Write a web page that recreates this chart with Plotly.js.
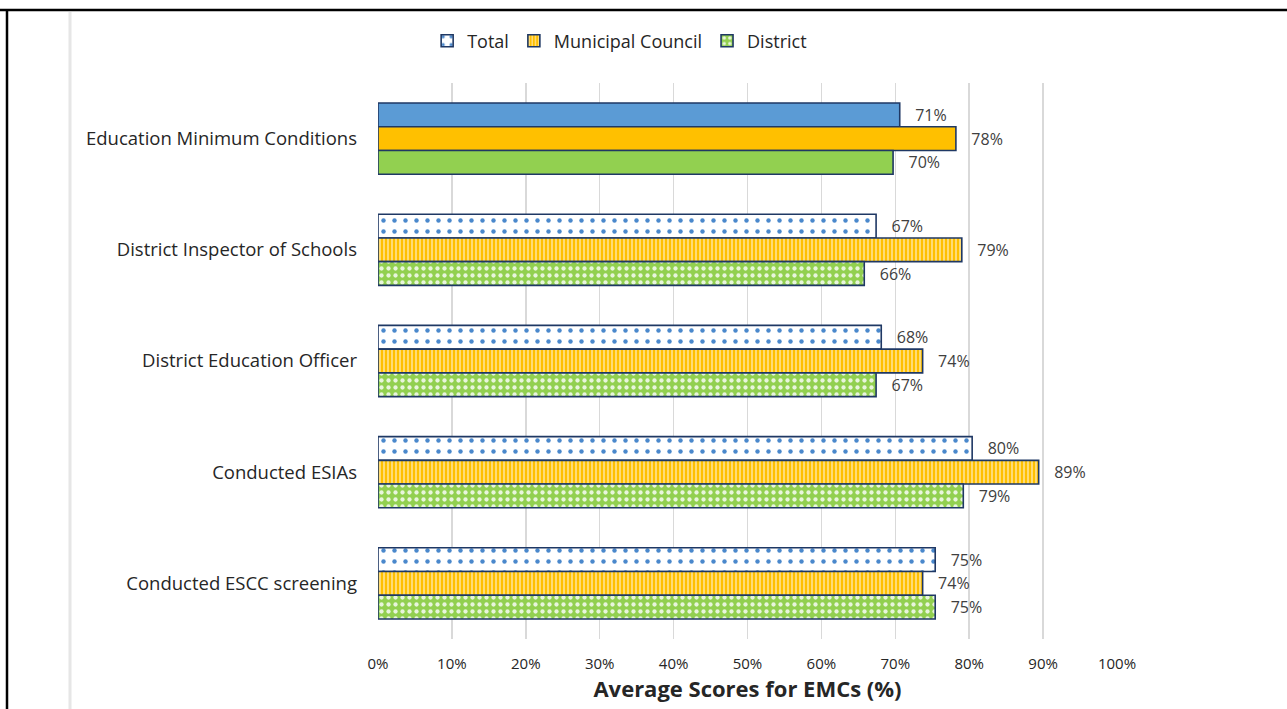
<!DOCTYPE html>
<html>
<head>
<meta charset="utf-8">
<script src="https://cdn.plot.ly/plotly-3.0.1.min.js"></script>
<style>html,body{margin:0;padding:0;background:#fff;}#chart{width:1287px;height:709px;}</style>
</head>
<body>
<div id="chart"></div>
<script>
const categories = ["Education Minimum Conditions", "District Inspector of Schools", "District Education Officer", "Conducted ESIAs", "Conducted ESCC screening"];
const totalValues = [70.6, 67.4, 68.1, 80.4, 75.4];
const municipalValues = [78.2, 79.0, 73.7, 89.4, 73.7];
const districtValues = [69.7, 65.8, 67.4, 79.2, 75.4];
const seriesNames = ["Total", "Municipal Council", "District"];
const xTickValues = [0, 10, 20, 30, 40, 50, 60, 70, 80, 90, 100];
const xTickLabels = ["0%", "10%", "20%", "30%", "40%", "50%", "60%", "70%", "80%", "90%", "100%"];

const FONT = '"Open Sans", sans-serif';
const edge = '#1F3864';
function bars(name, vals, grp, solid, bgPat, fg, shape, size, sol) {
  const common = {
    type: 'bar', orientation: 'h', name: name, offsetgroup: grp, legendgroup: grp,
    textposition: 'outside', cliponaxis: false,
    textfont: {family: FONT, size: 16, color: '#404040'},
    hoverinfo: 'skip'
  };
  const solidTrace = Object.assign({}, common, {
    y: categories.slice(0, 1), x: vals.slice(0, 1),
    text: vals.slice(0, 1).map(v => '\u00a0\u00a0\u00a0' + Math.round(v) + '%'),
    showlegend: false,
    marker: {color: solid, line: {color: edge, width: 1.6}}
  });
  const patTrace = Object.assign({}, common, {
    y: categories.slice(1), x: vals.slice(1),
    text: vals.slice(1).map(v => '\u00a0\u00a0\u00a0' + Math.round(v) + '%'),
    showlegend: true,
    marker: {color: bgPat, line: {color: edge, width: 1.6},
      pattern: {shape: shape, fgcolor: fg, bgcolor: bgPat, fillmode: 'overlay', size: size, solidity: sol, fgopacity: 1}}
  });
  return [patTrace, solidTrace];
}
const data = [].concat(
  bars(seriesNames[0], totalValues, 'g1', '#5B9BD5', '#ffffff', '#4A88CC', '.', 11, 0.13),
  bars(seriesNames[1], municipalValues, 'g2', '#FFC000', '#FFC000', '#FFE9A8', '|', 4, 0.35),
  bars(seriesNames[2], districtValues, 'g3', '#92D050', '#92D050', '#E8F5DC', '.', 7, 0.3)
);
const layout = {
  width: 1287, height: 709,
  margin: {l: 378, r: 170, t: 83, b: 70},
  paper_bgcolor: '#fff', plot_bgcolor: '#fff',
  barmode: 'group', bargap: 0.36, bargroupgap: 0,
  font: {family: FONT, color: '#262626'},
  showlegend: true,
  legend: {orientation: 'h', x: 0.327, xanchor: 'center', y: 1.0755, yanchor: 'middle',
    font: {size: 18, color: '#262626', family: FONT}, itemwidth: 30, traceorder: 'normal'},
  xaxis: {
    range: [0, 100], tickvals: xTickValues, ticktext: xTickLabels,
    showgrid: true, gridcolor: '#D9D9D9', gridwidth: 1.5, zeroline: false,
    tickfont: {size: 15, color: '#262626', family: FONT}, ticks: '', ticklabelstandoff: 14,
    showline: false,
    title: {text: 'Average Scores for EMCs (%)', font: {size: 22, color: '#262626', family: FONT, weight: 'bold'}, standoff: 9}
  },
  yaxis: {
    type: 'category', autorange: false, range: [4.5, -0.5],
    categoryorder: 'array', categoryarray: categories,
    showgrid: false, zeroline: false, showline: false, ticks: '',
    tickfont: {size: 18.5, color: '#262626', family: FONT}, ticklabelstandoff: 20
  },
  shapes: [
    {type: 'line', xref: 'paper', yref: 'paper', x0: -378/739, x1: 909/739, y0: 1 + 73/556, y1: 1 + 73/556, line: {color: '#000', width: 2.5}},
    {type: 'line', xref: 'paper', yref: 'paper', x0: -371/739, x1: -371/739, y0: 1 + 74/556, y1: -70/556, line: {color: '#000', width: 2.5}},
    {type: 'line', xref: 'paper', yref: 'paper', x0: -308/739, x1: -308/739, y0: 1 + 71/556, y1: -70/556, line: {color: '#E6E6E6', width: 3}}
  ]
};
Plotly.newPlot('chart', data, layout, {displayModeBar: false, staticPlot: true});
</script>
</body>
</html>
